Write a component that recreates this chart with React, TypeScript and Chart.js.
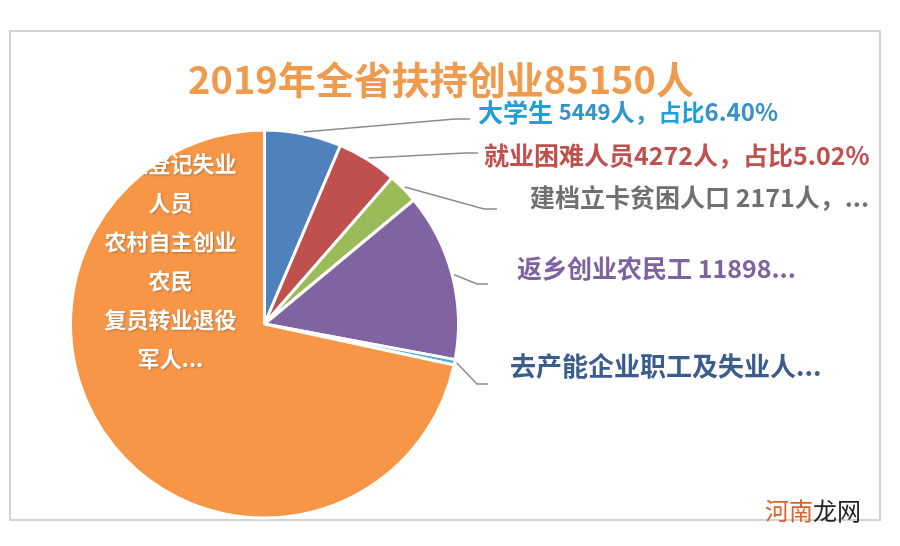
import React, { useEffect, useRef } from "react";
import { Chart, registerables } from "chart.js";

Chart.register(...registerables);

const categories = [
  "大学生",
  "就业困难人员",
  "建档立卡贫困人口",
  "返乡创业农民工",
  "去产能企业职工及失业人员",
  "城镇登记失业人员、农村自主创业农民、复员转业退役军人等",
];
const values = [5449, 4272, 2171, 11898, 380, 60980];
const sliceColors = ["#4f81bd", "#c0504d", "#9bbb59", "#8064a2", "#4bacc6", "#f79646"];
const titleText = "2019年全省扶持创业85150人";
const orangeLines = ["城镇登记失业", "人员", "农村自主创业", "农民", "复员转业退役", "军人..."];

type Seg = { t: string; size: number; weight: string; color: string };

const labelSegs: Seg[][] = [
  [
    { t: "大学生 ", size: 25, weight: "bold", color: "#1fa0d8" },
    { t: "5449", size: 22, weight: "600", color: "#3592c8" },
    { t: "人，", size: 24, weight: "bold", color: "#2c97cf" },
    { t: "占比", size: 23, weight: "bold", color: "#1fa0d8" },
    { t: "6.40%", size: 24, weight: "600", color: "#3592c8" },
  ],
  [
    { t: "就业困难人员", size: 25, weight: "bold", color: "#c0504d" },
    { t: "4272", size: 25, weight: "600", color: "#c0504d" },
    { t: "人，占比", size: 25, weight: "bold", color: "#c0504d" },
    { t: "5.02%", size: 25, weight: "600", color: "#c0504d" },
  ],
  [
    { t: "建档立卡贫困人口 ", size: 25, weight: "bold", color: "#707070" },
    { t: "2171", size: 25, weight: "600", color: "#707070" },
    { t: "人，...", size: 25, weight: "bold", color: "#707070" },
  ],
  [
    { t: "返乡创业农民工 ", size: 25, weight: "bold", color: "#7f63a1" },
    { t: "11898...", size: 25, weight: "600", color: "#7f63a1" },
  ],
  [{ t: "去产能企业职工及失业人...", size: 26, weight: "bold", color: "#3a5d8e" }],
];

// label layout: text left x, middle y, leader elbow and end
const labelPos = [
  { x: 478, y: 112, ex: 455, ey: 119, hx: 470 },
  { x: 484, y: 155, ex: 465, ey: 153, hx: 478 },
  { x: 530, y: 197, ex: 484, ey: 209, hx: 497 },
  { x: 517, y: 268, ex: 477, ey: 284, hx: 488 },
  { x: 510, y: 366, ex: 477, ey: 384, hx: 488 },
];

const FONT = '"Noto Sans CJK SC", "Noto Sans", sans-serif';

const decorPlugin = {
  id: "decor",
  beforeDraw(chart: any) {
    const ctx = chart.ctx;
    ctx.save();
    ctx.fillStyle = "#ffffff";
    ctx.fillRect(0, 0, chart.width, chart.height);
    ctx.strokeStyle = "#d2d2d2";
    ctx.lineWidth = 2;
    ctx.strokeRect(10, 31, 870, 489);
    ctx.restore();
  },
  afterDraw(chart: any) {
    const ctx = chart.ctx;
    const meta = chart.getDatasetMeta(0);
    ctx.save();
    // title
    ctx.font = `bold 38px ${FONT}`;
    ctx.fillStyle = "#ef9a4c";
    ctx.textAlign = "center";
    ctx.textBaseline = "middle";
    ctx.fillText(titleText, 441, 80);

    // leader lines
    ctx.strokeStyle = "#8c8c8c";
    ctx.lineWidth = 1.5;
    labelPos.forEach((p, i) => {
      const arc = meta.data[i] as any;
      const mid = (arc.startAngle + arc.endAngle) / 2;
      const r = arc.outerRadius + 2;
      const sx = arc.x + Math.cos(mid) * r;
      const sy = arc.y + Math.sin(mid) * r;
      ctx.beginPath();
      ctx.moveTo(sx, sy);
      ctx.lineTo(p.ex, p.ey);
      ctx.lineTo(p.hx, p.ey);
      ctx.stroke();
    });

    // labels
    ctx.textAlign = "left";
    ctx.textBaseline = "middle";
    labelSegs.forEach((segs, i) => {
      let x = labelPos[i].x;
      const y = labelPos[i].y;
      segs.forEach((s) => {
        ctx.font = `${s.weight} ${s.size}px ${FONT}`;
        ctx.fillStyle = s.color;
        ctx.fillText(s.t, x, y);
        x += ctx.measureText(s.t).width;
      });
    });

    // orange slice label, clipped to the slice
    const big = meta.data[5] as any;
    ctx.save();
    ctx.beginPath();
    ctx.moveTo(big.x, big.y);
    ctx.arc(big.x, big.y, big.outerRadius - 1, big.startAngle, big.endAngle);
    ctx.closePath();
    ctx.clip();
    ctx.font = `bold 22px ${FONT}`;
    ctx.textAlign = "center";
    ctx.fillStyle = "#ffffff";
    ctx.shadowColor = "rgba(0,0,0,0.25)";
    ctx.shadowBlur = 2;
    ctx.shadowOffsetX = 1;
    ctx.shadowOffsetY = 1;
    const cx = big.x - 94;
    orangeLines.forEach((l, i) => {
      ctx.fillText(l, cx, big.y - 160 + i * 39);
    });
    ctx.restore();

    // watermark
    ctx.textAlign = "left";
    ctx.textBaseline = "middle";
    ctx.font = `24px ${FONT}`;
    ctx.fillStyle = "#e0622a";
    ctx.fillText("河南", 765, 511);
    const w = ctx.measureText("河南").width;
    ctx.fillStyle = "#222222";
    ctx.fillText("龙网", 765 + w, 511);
    ctx.restore();
  },
};

export default function App() {
  const ref = useRef<HTMLCanvasElement>(null);
  useEffect(() => {
    document.body.style.margin = "0";
    const chart = new Chart(ref.current!, {
      type: "pie",
      data: {
        labels: categories,
        datasets: [
          {
            data: values,
            backgroundColor: sliceColors,
            borderColor: "#ffffff",
            borderWidth: 3,
          },
        ],
      },
      options: {
        responsive: false,
        animation: false,
        devicePixelRatio: 1,
        layout: { padding: { left: 69, right: 440, top: 128, bottom: 26 } },
        plugins: {
          legend: { display: false },
          tooltip: { enabled: false },
          title: { display: false },
        },
      },
      plugins: [decorPlugin],
    });
    return () => chart.destroy();
  }, []);
  return (
    <div style={{ position: "absolute", left: 0, top: 0, width: 900, height: 546 }}>
      <canvas ref={ref} width={900} height={546} style={{ width: 900, height: 546 }} />
    </div>
  );
}
